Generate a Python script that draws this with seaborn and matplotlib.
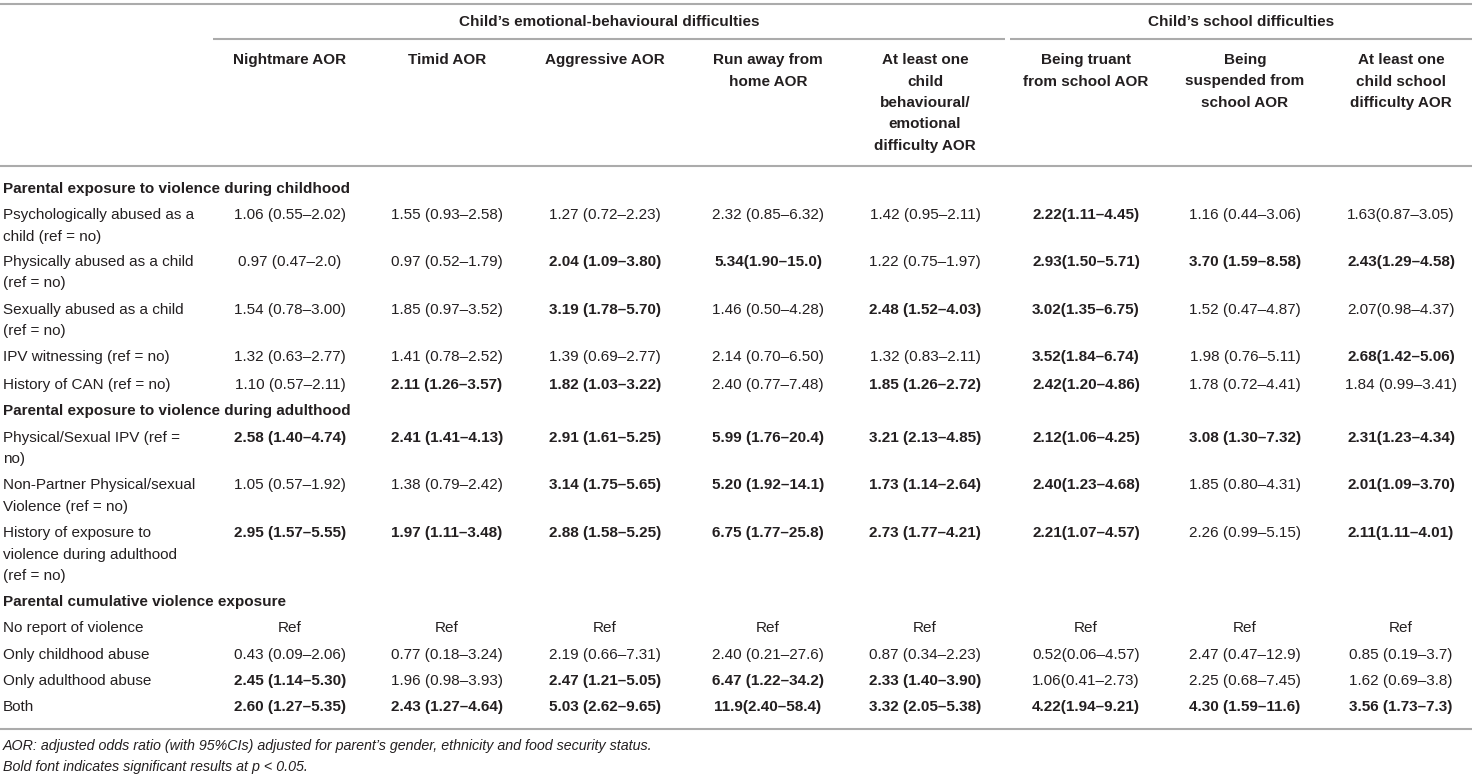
import matplotlib
matplotlib.use("Agg")
import matplotlib.pyplot as plt
from matplotlib import font_manager
import seaborn as sns

# ---------------------------------------------------------------- datos
grupos = ["Child\u2019s emotional-behavioural difficulties", "Child\u2019s school difficulties"]
columnas = [
    "Nightmare AOR",
    "Timid AOR",
    "Aggressive AOR",
    "Run away from\nhome AOR",
    "At least one\nchild\nbehavioural/\nemotional\ndifficulty AOR",
    "Being truant\nfrom school AOR",
    "Being\nsuspended from\nschool AOR",
    "At least one\nchild school\ndifficulty AOR",
]
secciones = [
    "Parental exposure to violence during childhood",
    "Parental exposure to violence during adulthood",
    "Parental cumulative violence exposure",
]
filas = [
    "Psychologically abused as a\nchild (ref = no)",
    "Physically abused as a child\n(ref = no)",
    "Sexually abused as a child\n(ref = no)",
    "IPV witnessing (ref = no)",
    "History of CAN (ref = no)",
    "Physical/Sexual IPV (ref =\nno)",
    "Non-Partner Physical/sexual\nViolence (ref = no)",
    "History of exposure to\nviolence during adulthood\n(ref = no)",
    "No report of violence",
    "Only childhood abuse",
    "Only adulthood abuse",
    "Both",
]

nightmare = ["1.06 (0.55–2.02)", "0.97 (0.47–2.0)", "1.54 (0.78–3.00)", "1.32 (0.63–2.77)",
             "1.10 (0.57–2.11)", "2.58 (1.40–4.74)", "1.05 (0.57–1.92)", "2.95 (1.57–5.55)",
             "Ref", "0.43 (0.09–2.06)", "2.45 (1.14–5.30)", "2.60 (1.27–5.35)"]
timid = ["1.55 (0.93–2.58)", "0.97 (0.52–1.79)", "1.85 (0.97–3.52)", "1.41 (0.78–2.52)",
         "2.11 (1.26–3.57)", "2.41 (1.41–4.13)", "1.38 (0.79–2.42)", "1.97 (1.11–3.48)",
         "Ref", "0.77 (0.18–3.24)", "1.96 (0.98–3.93)", "2.43 (1.27–4.64)"]
aggressive = ["1.27 (0.72–2.23)", "2.04 (1.09–3.80)", "3.19 (1.78–5.70)", "1.39 (0.69–2.77)",
              "1.82 (1.03–3.22)", "2.91 (1.61–5.25)", "3.14 (1.75–5.65)", "2.88 (1.58–5.25)",
              "Ref", "2.19 (0.66–7.31)", "2.47 (1.21–5.05)", "5.03 (2.62–9.65)"]
run_away = ["2.32 (0.85–6.32)", "5.34(1.90–15.0)", "1.46 (0.50–4.28)", "2.14 (0.70–6.50)",
            "2.40 (0.77–7.48)", "5.99 (1.76–20.4)", "5.20 (1.92–14.1)", "6.75 (1.77–25.8)",
            "Ref", "2.40 (0.21–27.6)", "6.47 (1.22–34.2)", "11.9(2.40–58.4)"]
any_behav = ["1.42 (0.95–2.11)", "1.22 (0.75–1.97)", "2.48 (1.52–4.03)", "1.32 (0.83–2.11)",
             "1.85 (1.26–2.72)", "3.21 (2.13–4.85)", "1.73 (1.14–2.64)", "2.73 (1.77–4.21)",
             "Ref", "0.87 (0.34–2.23)", "2.33 (1.40–3.90)", "3.32 (2.05–5.38)"]
truant = ["2.22(1.11–4.45)", "2.93(1.50–5.71)", "3.02(1.35–6.75)", "3.52(1.84–6.74)",
          "2.42(1.20–4.86)", "2.12(1.06–4.25)", "2.40(1.23–4.68)", "2.21(1.07–4.57)",
          "Ref", "0.52(0.06–4.57)", "1.06(0.41–2.73)", "4.22(1.94–9.21)"]
suspended = ["1.16 (0.44–3.06)", "3.70 (1.59–8.58)", "1.52 (0.47–4.87)", "1.98 (0.76–5.11)",
             "1.78 (0.72–4.41)", "3.08 (1.30–7.32)", "1.85 (0.80–4.31)", "2.26 (0.99–5.15)",
             "Ref", "2.47 (0.47–12.9)", "2.25 (0.68–7.45)", "4.30 (1.59–11.6)"]
any_school = ["1.63(0.87–3.05)", "2.43(1.29–4.58)", "2.07(0.98–4.37)", "2.68(1.42–5.06)",
              "1.84 (0.99–3.41)", "2.31(1.23–4.34)", "2.01(1.09–3.70)", "2.11(1.11–4.01)",
              "Ref", "0.85 (0.19–3.7)", "1.62 (0.69–3.8)", "3.56 (1.73–7.3)"]

# 1 = negrita (significativo p < 0.05)
nightmare_b = [0, 0, 0, 0, 0, 1, 0, 1, 0, 0, 1, 1]
timid_b = [0, 0, 0, 0, 1, 1, 0, 1, 0, 0, 0, 1]
aggressive_b = [0, 1, 1, 0, 1, 1, 1, 1, 0, 0, 1, 1]
run_away_b = [0, 1, 0, 0, 0, 1, 1, 1, 0, 0, 1, 1]
any_behav_b = [0, 0, 1, 0, 1, 1, 1, 1, 0, 0, 1, 1]
truant_b = [1, 1, 1, 1, 1, 1, 1, 1, 0, 0, 0, 1]
suspended_b = [0, 1, 0, 0, 0, 1, 0, 0, 0, 0, 0, 1]
any_school_b = [0, 1, 0, 1, 0, 1, 1, 1, 0, 0, 0, 1]

notas = [
    "AOR: adjusted odds ratio (with 95%CIs) adjusted for parent\u2019s gender, ethnicity and food security status.",
    "Bold font indicates significant results at p < 0.05.",
]

valores = [nightmare, timid, aggressive, run_away, any_behav, truant, suspended, any_school]
negritas = [nightmare_b, timid_b, aggressive_b, run_away_b, any_behav_b, truant_b, suspended_b, any_school_b]

# ---------------------------------------------------------------- layout (pixeles)
W, H = 1472, 776
col_x = [290, 447, 605, 768, 925, 1086, 1245, 1401]
grupo_x = [(213, 1005), (1010, 1472)]
fila_y = [215, 262, 310, 357, 385, 438, 485, 533, 628, 655, 681, 707]
seccion_y = [189, 411, 602]
paso = 21.5          # interlineado dentro de una celda
tinta = "#231f20"
gris = "#ababab"

sns.set_theme(style="white")
nombres = {f.name for f in font_manager.fontManager.ttflist}
if "Liberation Sans Narrow" in nombres:
    familia, fs = ["Liberation Sans Narrow", "DejaVu Sans"], 13.3
else:
    familia, fs = ["Liberation Sans", "DejaVu Sans"], 11.0
plt.rcParams["font.family"] = familia

fig = plt.figure(figsize=(W / 100, H / 100), dpi=100)
ax = fig.add_axes([0, 0, 1, 1])
ax.set_xlim(0, W)
ax.set_ylim(H, 0)
ax.axis("off")


def multilinea(x, y, texto, **kw):
    for i, linea in enumerate(texto.split("\n")):
        ax.text(x, y + i * paso, linea, va="center", color=tinta, fontsize=fs, **kw)


# reglas horizontales
for y in [4, 166, 729]:
    ax.plot([0, W], [y, y], color=gris, lw=1.5, solid_capstyle="butt")
for (x0, x1) in grupo_x:
    ax.plot([x0, x1], [39, 39], color=gris, lw=1.5, solid_capstyle="butt")

# encabezados
for (x0, x1), g in zip(grupo_x, grupos):
    ax.text((x0 + x1) / 2, 22, g, ha="center", va="center", color=tinta,
            fontsize=fs, fontweight="bold")
for x, c in zip(col_x, columnas):
    multilinea(x, 60, c, ha="center", fontweight="bold")

# secciones
for y, s in zip(seccion_y, secciones):
    ax.text(3, y, s, va="center", color=tinta, fontsize=fs, fontweight="bold")

# filas
for y, f in zip(fila_y, filas):
    multilinea(3, y, f, ha="left")

for x, col, neg in zip(col_x, valores, negritas):
    for y, v, b in zip(fila_y, col, neg):
        ax.text(x, y, v, ha="center", va="center", color=tinta, fontsize=fs,
                fontweight="bold" if b else "normal")

# notas al pie
for i, n in enumerate(notas):
    ax.text(3, 746 + i * 20.5, n, va="center", color=tinta, fontsize=fs * 0.93,
            fontstyle="italic")

fig.savefig("out.png", dpi=100)
